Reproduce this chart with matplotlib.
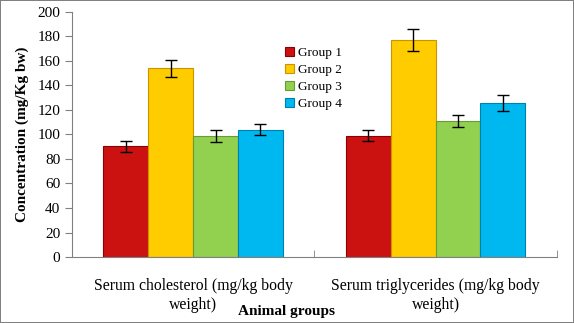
import matplotlib.pyplot as plt
import numpy as np

plt.rcParams['font.family'] = ['Liberation Serif', 'DejaVu Serif']

categories = ['Serum cholesterol (mg/kg body\nweight)', 'Serum triglycerides (mg/kg body\nweight)']
groups = ['Group 1', 'Group 2', 'Group 3', 'Group 4']
means = {
    'Group 1': [90.5, 99],
    'Group 2': [154, 177],
    'Group 3': [98.5, 111],
    'Group 4': [104, 125.5],
}
errors = {
    'Group 1': [4.5, 4.5],
    'Group 2': [7, 9],
    'Group 3': [5, 5],
    'Group 4': [4.5, 6.5],
}
colors = ['#CC1111', '#FFCC00', '#92D050', '#00B8F0']
edges = ['#8B0000', '#C89400', '#6A9A38', '#0080B0']

fig = plt.figure(figsize=(5.74, 3.23), dpi=100, linewidth=1.2, edgecolor='#808080')
ax = fig.add_axes([0.1254, 0.2043, 0.8446, 0.7587])

x = np.arange(len(categories))
w = 0.185
for i, g in enumerate(groups):
    ax.bar(x + (i - 1.5) * w, means[g], w, color=colors[i], edgecolor=edges[i],
           linewidth=0.8, label=g, yerr=errors[g], capsize=4,
           error_kw=dict(ecolor='black', elinewidth=1, capthick=1))

ax.set_xlim(-0.5, 1.5)
ax.set_ylim(0, 200)
ax.set_yticks(range(0, 201, 20))
ax.set_xticks(x)
ax.set_xticklabels(categories, fontsize=11.3, linespacing=1.3)
ax.tick_params(axis='x', length=0, pad=15)
ax.set_xticks([-0.5, 0.5, 1.5], minor=True)
ax.tick_params(axis='x', which='minor', length=5, color='#808080', direction='in')
ax.tick_params(axis='y', labelsize=11, length=5, color='#808080', direction='out')
for s in ['top', 'right']:
    ax.spines[s].set_visible(False)
for s in ['left', 'bottom']:
    ax.spines[s].set_color('#808080')

ax.set_ylabel('Concentration (mg/Kg bw)', fontsize=11, fontweight='bold', labelpad=6)
fig.text(0.50, 0.025, 'Animal groups', fontsize=11, fontweight='bold', ha='center')

leg = ax.legend(loc='upper left', bbox_to_anchor=(0.415, 0.905), frameon=False,
                fontsize=9.5, handlelength=0.7, handleheight=0.7, handletextpad=0.3,
                labelspacing=0.35)

fig.savefig('out.png', dpi=100)
